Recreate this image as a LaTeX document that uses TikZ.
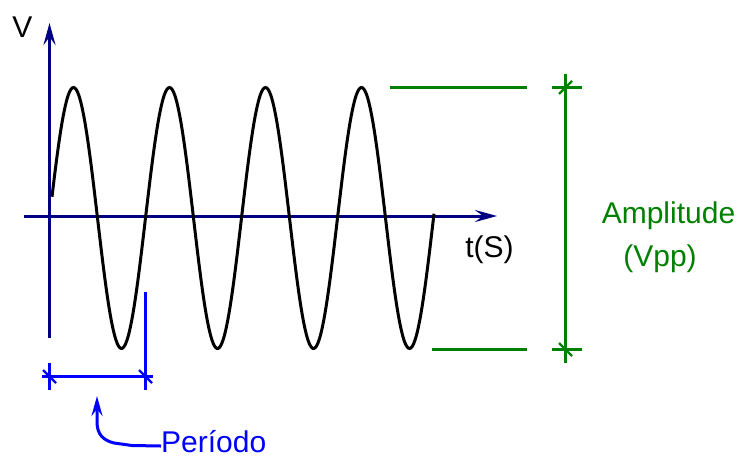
\documentclass[tikz,border=0pt]{standalone}
\usepackage{fontspec}
\setmainfont{Liberation Sans}
\usetikzlibrary{arrows.meta}
\definecolor{axisnavy}{RGB}{0,0,128}
\definecolor{dimblue}{RGB}{0,0,255}
\definecolor{ampgreen}{RGB}{0,128,0}
\begin{document}
\begin{tikzpicture}[x=1pt,y=-1pt,line cap=butt,
  lbl/.style={font=\fontsize{30}{36}\selectfont, inner sep=0pt},
  axisline/.style={draw=axisnavy, line width=3pt},
  axtip/.style={-{Stealth[length=22pt,width=12pt,inset=8pt]}},
  wave/.style={draw=black, line width=3pt},
  ampline/.style={draw=ampgreen, line width=3pt},
  dimline/.style={draw=dimblue, line width=3pt},
  slash/.style={line width=2.2pt}]
\useasboundingbox (0,0) rectangle (741,459);
% axes
\coordinate (vbot) at (49.5,338);
\coordinate (vtop) at (49.5,23);
\coordinate (hleft) at (24,216);
\coordinate (hright) at (497,216);
\draw[axisline,axtip] (vbot) -- (vtop);
\draw[axisline,axtip] (hleft) -- (hright);
\node[lbl,anchor=base] (vlab) at (22.5,37.5) {V};
\node[lbl,anchor=base] (tlab) at (489.5,257) {t(S)};
% wave
\draw[wave] plot[domain=52:434,samples=300,smooth] (\x,{218-130.5*sin(3.75*(\x-49.5))});
% amplitude
\coordinate (gt1) at (390,87.3);
\coordinate (gt2) at (527,87.3);
\coordinate (gb1) at (432,349.3);
\coordinate (gb2) at (527,349.3);
\coordinate (gvt) at (565.5,74);
\coordinate (gvb) at (565.5,363);
\draw[ampline] (gt1) -- (gt2);
\draw[ampline] (gb1) -- (gb2);
\draw[ampline] (gvt) -- (gvb);
\draw[ampline] (552,87.3) -- (582,87.3);
\draw[ampline] (552,349.3) -- (582,349.3);
\draw[ampline,slash] (559,94) -- (572,81);
\draw[ampline,slash] (559,343) -- (572,356);
\node[lbl,text=ampgreen,anchor=base] (amp) at (668.5,223) {Amplitude};
\node[lbl,text=ampgreen,anchor=base] (vpp) at (660,266) {(Vpp)};
% period
\coordinate (pl1) at (49.5,362.7);
\coordinate (pl2) at (49.5,390);
\coordinate (pr1) at (145.5,292);
\coordinate (pr2) at (145.5,390);
\coordinate (dl) at (42,376.5);
\coordinate (dr) at (153,376.5);
\draw[dimline] (pl1) -- (pl2);
\draw[dimline] (pr1) -- (pr2);
\draw[dimline] (dl) -- (dr);
\draw[dimline,slash] (43,370) -- (56,383);
\draw[dimline,slash] (139,370) -- (152,383);
\node[lbl,text=dimblue,anchor=base west] (per) at (161,452.5) {Período};
\coordinate (ptip) at (97,396);
\draw[dimline,-{Stealth[length=20pt,width=11pt,inset=7pt]}]
  (per.west|-0,446) -- (132,445.5) -- (114,443)
  .. controls (104,440.5) and (97,435) .. (97,422) -- (ptip);
\end{tikzpicture}
\end{document}
